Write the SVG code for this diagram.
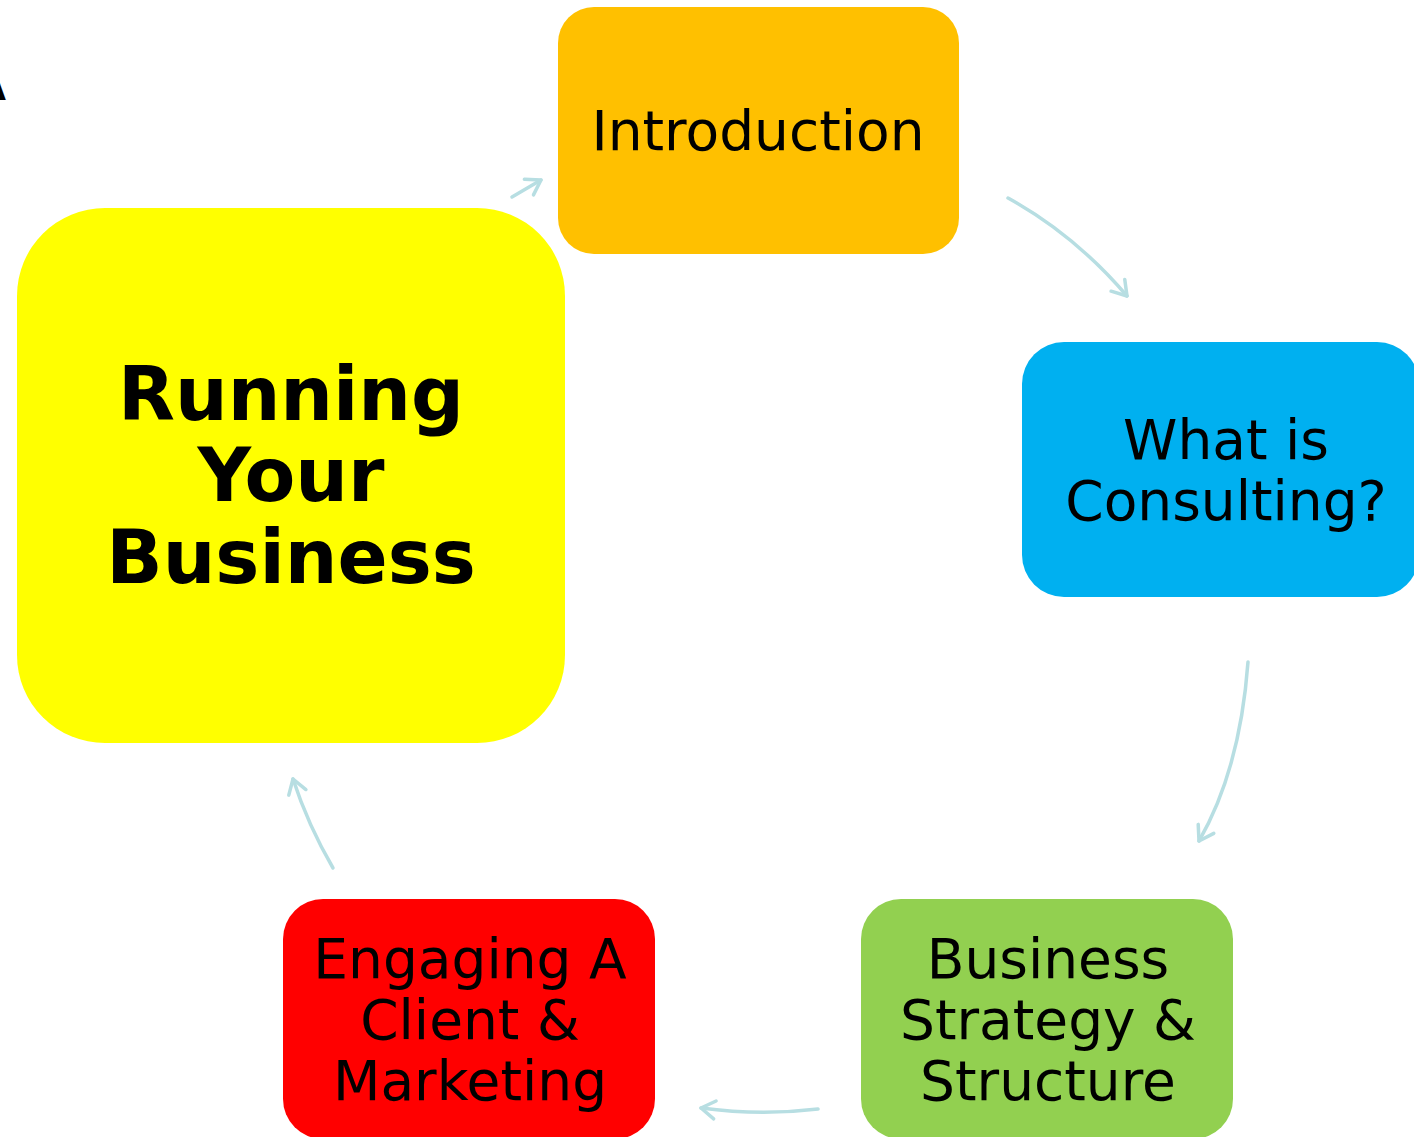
<svg xmlns="http://www.w3.org/2000/svg" width="1414" height="1137" viewBox="0 0 1414 1137">
<style>
.t{font-family:"DejaVu Sans",Verdana,sans-serif;font-size:55px;fill:#000;text-anchor:middle}
.b{font-family:"DejaVu Sans",Verdana,sans-serif;font-size:74px;font-weight:bold;fill:#000;text-anchor:middle}
.c{fill:none;stroke:#B7DEE2;stroke-width:3.5;stroke-linecap:round}
</style>
<defs>
<marker id="ah" markerUnits="userSpaceOnUse" markerWidth="40" markerHeight="40" refX="20" refY="20" orient="auto" viewBox="0 0 40 40">
<path d="M6 11 L20 20 L6 29" fill="none" stroke="#B7DEE2" stroke-width="3.5" stroke-linecap="round" stroke-linejoin="round"/>
</marker>
</defs>
<rect width="1414" height="1137" fill="#fff"/>
<text x="6" y="100" font-family="DejaVu Sans, sans-serif" font-size="40" font-weight="bold" text-anchor="end">A</text>
<g id="connectors">
<path class="c" d="M512 197 L541 180" marker-end="url(#ah)"/>
<path class="c" d="M1008 198 Q1075 235 1127 296" marker-end="url(#ah)"/>
<path class="c" d="M1248 662 Q1240 770 1199 841" marker-end="url(#ah)"/>
<path class="c" d="M818 1109 Q760 1116 701 1108" marker-end="url(#ah)"/>
<path class="c" d="M333 868 Q308 825 293 779" marker-end="url(#ah)"/>
</g>
<g id="introduction">
<rect x="558" y="7" width="401" height="247" rx="36" fill="#FFC000"/>
<text class="t" x="758" y="150">Introduction</text>
</g>
<g id="what-is-consulting">
<rect x="1022" y="342" width="397" height="255" rx="42" fill="#00B0F0"/>
<text class="t" x="1226" y="459">What is</text>
<text class="t" x="1226" y="520">Consulting?</text>
</g>
<g id="running-your-business">
<rect x="17" y="208" width="548" height="535" rx="88" fill="#FFFF00"/>
<text class="b" x="291" y="420">Running</text>
<text class="b" x="291" y="501">Your</text>
<text class="b" x="291" y="583">Business</text>
</g>
<g id="business-strategy">
<rect x="861" y="899" width="372" height="240" rx="40" fill="#92D050"/>
<text class="t" x="1048" y="978">Business</text>
<text class="t" x="1048" y="1039">Strategy &amp;</text>
<text class="t" x="1048" y="1100">Structure</text>
</g>
<g id="engaging-client">
<rect x="283" y="899" width="372" height="240" rx="40" fill="#FF0000"/>
<text class="t" x="470" y="978">Engaging A</text>
<text class="t" x="470" y="1039">Client &amp;</text>
<text class="t" x="470" y="1100">Marketing</text>
</g>
</svg>
